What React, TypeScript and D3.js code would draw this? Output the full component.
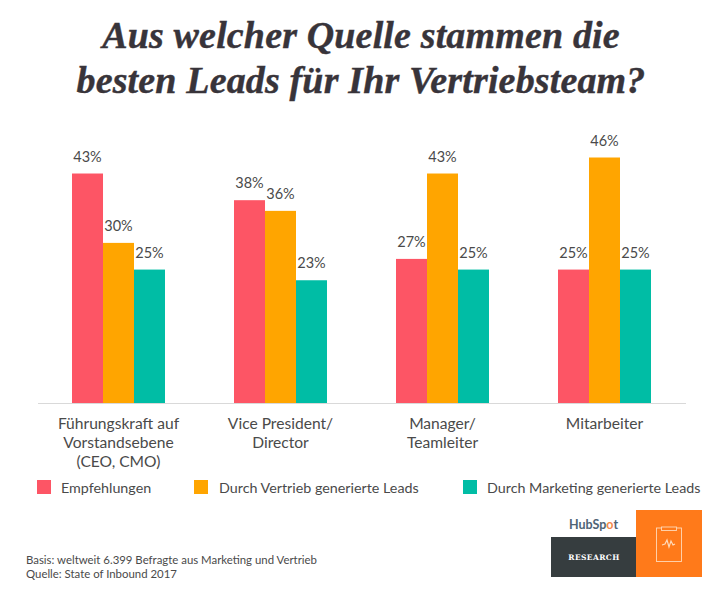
import * as d3 from 'd3'

const TITLE_LINES = ['Aus welcher Quelle stammen die', 'besten Leads für Ihr Vertriebsteam?']
const CATEGORIES = ['fk', 'vp', 'mgr', 'ma']
const CATEGORY_LABELS = [
  ['Führungskraft auf', 'Vorstandsebene', '(CEO, CMO)'],
  ['Vice President/', 'Director'],
  ['Manager/', 'Teamleiter'],
  ['Mitarbeiter'],
]
const SERIES = ['Empfehlungen', 'Durch Vertrieb generierte Leads', 'Durch Marketing generierte Leads']
const EMPFEHLUNGEN = [43, 38, 27, 25]
const VERTRIEB = [30, 36, 43, 46]
const MARKETING = [25, 23, 25, 25]
const FOOTNOTES = ['Basis: weltweit 6.399 Befragte aus Marketing und Vertrieb', 'Quelle: State of Inbound 2017']

const COLORS = ['#fd5565', '#ffa500', '#00bda5']
const TEXT = '#4a4a4a'
const SANS = 'Lato, "Open Sans", sans-serif'

export default function App() {
  const width = 724
  const height = 600
  const baseline = 403

  const x = d3.scaleBand<string>().domain(CATEGORIES).range([37.5, 685.5]).paddingInner(0.426).paddingOuter(0.213)
  const inner = d3.scaleBand<string>().domain(SERIES).range([0, x.bandwidth()])
  const y = d3.scaleLinear().domain([0, 46]).range([baseline, 157.5])
  const seriesValues = [EMPFEHLUNGEN, VERTRIEB, MARKETING]

  const legendX = [37, 194, 463]
  const legendTextX = [61, 219, 487]

  return (
    <svg
      width={width}
      height={height}
      viewBox={`0 0 ${width} ${height}`}
      style={{ position: 'absolute', left: 0, top: 0, background: '#fff' }}
    >
      {TITLE_LINES.map((line, i) => (
        <text
          key={line}
          x={361}
          y={48 + i * 45}
          textAnchor="middle"
          fontFamily='"Liberation Serif", serif'
          fontWeight="bold"
          fontStyle="italic"
          fontSize={38}
          letterSpacing={0.15}
          stroke="#38343a"
          strokeWidth={0.4}
          fill="#38343a"
        >
          {line}
        </text>
      ))}

      {SERIES.map((name, s) =>
        seriesValues[s].map((value, c) => {
          const bx = (x(CATEGORIES[c]) ?? 0) + (inner(name) ?? 0)
          return (
            <g key={`${name}-${c}`}>
              <rect x={bx} y={y(value)} width={inner.bandwidth()} height={baseline - y(value)} fill={COLORS[s]} />
              <text
                x={bx + inner.bandwidth() / 2}
                y={y(value) - 12}
                textAnchor="middle"
                fontFamily={SANS}
                fontSize={14.5}
                fill={TEXT}
              >
                {value}%
              </text>
            </g>
          )
        }),
      )}

      <line x1={38} x2={686} y1={baseline + 0.5} y2={baseline + 0.5} stroke="#d9d9d9" strokeWidth={1} />

      {CATEGORY_LABELS.map((lines, c) => (
        <text
          key={c}
          textAnchor="middle"
          fontFamily={SANS}
          fontSize={15.6}
          fill={TEXT}
        >
          {lines.map((line, i) => (
            <tspan key={line} x={(x(CATEGORIES[c]) ?? 0) + x.bandwidth() / 2} y={429 + i * 19}>
              {line}
            </tspan>
          ))}
        </text>
      ))}

      {SERIES.map((name, s) => (
        <g key={name}>
          <rect x={legendX[s]} y={480} width={14} height={14} fill={COLORS[s]} />
          <text x={legendTextX[s]} y={493} fontFamily={SANS} fontSize={14.3} fill={TEXT}>
            {name}
          </text>
        </g>
      ))}

      {FOOTNOTES.map((line, i) => (
        <text key={line} x={26} y={564 + i * 14} fontFamily={SANS} fontSize={11.4} fill={TEXT}>
          {line}
        </text>
      ))}

      {/* logo block */}
      <text x={569} y={529} fontFamily={SANS} fontWeight="bold" fontSize={12.5} fill="#4f6475">
        HubSp<tspan fill="#f5894a">o</tspan>t
      </text>
      <rect x={551} y={537} width={85} height={40} fill="#363d3f" />
      <text x={594} y={559.5} textAnchor="middle" fontFamily='"DejaVu Serif", serif' fontWeight="bold" fontSize={7.5} letterSpacing={0.4} fill="#fff">
        RESEARCH
      </text>
      <rect x={636} y={510} width={66} height={67} fill="#ff7a1a" />
      <g fill="none" stroke="#ffd9b8" strokeWidth={0.9}>
        <rect x={656.5} y={528} width={25} height={33.5} />
        <rect x={661.5} y={527} width={15} height={3.5} fill="#ff7a1a" />
        <path d="M662 545 l3 -1 l2 -4 l2 7 l2 -6 l2 4 l2 -1" strokeWidth={1.2} />
      </g>
    </svg>
  )
}
